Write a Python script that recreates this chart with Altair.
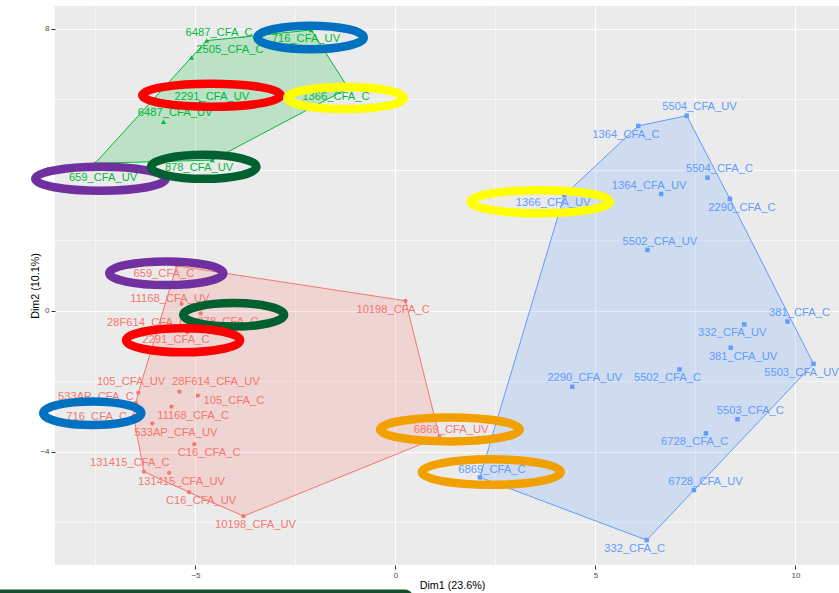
import altair as alt
import pandas as pd

# ---- PCA individuals (Dim1, Dim2) and their label positions ----
red_names = ["659_CFA_C", "10198_CFA_C", "11168_CFA_UV", "878_CFA_C", "28F614_CFA_C",
             "2291_CFA_C", "105_CFA_UV", "28F614_CFA_UV", "105_CFA_C", "533AP_CFA_C",
             "11168_CFA_C", "716_CFA_C", "533AP_CFA_UV", "C16_CFA_C", "131415_CFA_C",
             "131415_CFA_UV", "C16_CFA_UV", "10198_CFA_UV", "6869_CFA_UV"]
red_x = [-5.47, 0.25, -5.35, -4.87, -5.20, -4.89, -6.43, -5.40, -4.94, -6.49,
         -5.60, -6.55, -6.08, -5.03, -6.29, -5.66, -5.16, -3.80, 1.10]
red_y = [1.28, 0.29, 0.20, -0.07, -0.60, -1.16, -2.32, -2.29, -2.40, -2.61,
         -2.71, -2.98, -3.19, -3.78, -4.56, -4.59, -5.14, -5.82, -3.57]
red_lx = [-5.79, -0.06, -5.64, -4.19, -6.21, -5.49, -6.61, -4.49, -4.04, -7.49,
          -5.06, -7.47, -5.49, -4.66, -6.64, -5.35, -4.86, -3.50, 1.39]
red_ly = [1.04, 0.03, 0.34, -0.30, -0.35, -0.82, -2.01, -2.01, -2.54, -2.43,
          -2.97, -3.00, -3.45, -4.04, -4.32, -4.84, -5.39, -6.07, -3.38]

green_names = ["6487_CFA_C", "716_CFA_UV", "2505_CFA_C", "2291_CFA_UV", "1366_CFA_C",
               "6487_CFA_UV", "878_CFA_UV", "659_CFA_UV"]
green_x = [-4.72, -2.11, -5.10, -4.89, -1.18, -5.80, -4.58, -7.51]
green_y = [7.67, 7.97, 7.19, 5.93, 6.32, 5.37, 4.28, 4.19]
green_lx = [-4.41, -2.24, -4.14, -4.59, -1.49, -5.51, -4.91, -7.31]
green_ly = [7.88, 7.72, 7.40, 6.08, 6.06, 5.61, 4.05, 3.78]

blue_names = ["5504_CFA_UV", "1364_CFA_C", "5504_CFA_C", "1364_CFA_UV", "2290_CFA_C",
              "1366_CFA_UV", "5502_CFA_UV", "381_CFA_C", "332_CFA_UV", "381_CFA_UV",
              "5503_CFA_UV", "2290_CFA_UV", "5502_CFA_C", "5503_CFA_C", "6728_CFA_C",
              "6869_CFA_C", "6728_CFA_UV", "332_CFA_C"]
blue_x = [7.28, 6.07, 7.80, 6.64, 8.36, 4.22, 6.30, 9.80, 8.72, 8.38,
          10.45, 4.42, 7.10, 8.55, 7.76, 2.11, 7.46, 6.28]
blue_y = [5.54, 5.25, 3.78, 3.32, 3.18, 3.29, 1.73, -0.30, -0.38, -1.04,
          -1.50, -2.15, -1.66, -3.07, -3.47, -4.72, -5.08, -6.50]
blue_lx = [7.60, 5.76, 8.10, 6.34, 8.66, 3.94, 6.61, 10.10, 8.42, 8.69,
           10.15, 4.73, 6.80, 8.87, 7.48, 2.41, 7.75, 5.98]
blue_ly = [5.78, 4.99, 4.02, 3.55, 2.93, 3.06, 1.95, -0.07, -0.63, -1.30,
           -1.75, -1.89, -1.89, -2.84, -3.72, -4.51, -4.84, -6.75]

# ---- highlight rings around repeated strains ----
ring_names = ["716_CFA_UV", "2291_CFA_UV", "1366_CFA_C", "659_CFA_UV", "878_CFA_UV",
              "659_CFA_C", "878_CFA_C", "2291_CFA_C", "716_CFA_C", "6869_CFA_UV",
              "6869_CFA_C", "1366_CFA_UV"]
ring_x = [-2.125, -4.60, -1.25, -7.375, -4.795, -5.73, -4.045, -5.31, -7.58, 1.36, 2.395, 3.62]
ring_y = [7.76, 6.12, 6.04, 3.75, 4.09, 1.07, -0.11, -0.83, -2.90, -3.36, -4.57, 3.10]
ring_colors = ["#0070C0", "#FF0000", "#FFFF00", "#7030A0", "#00602F",
               "#7030A0", "#00602F", "#FF0000", "#0070C0", "#F2A000",
               "#F2A000", "#FFFF00"]

X_MAJOR = [-5, 0, 5, 10]
X_MINOR = [-7.5, -2.5, 2.5, 7.5]
Y_MAJOR = [-4, 0, 4, 8]
Y_MINOR = [-6, -2, 2, 6]

GROUP_COLORS = {"red": "#F8766D", "green": "#00BA38", "blue": "#619CFF"}
GROUP_SHAPES = {"red": "circle", "green": "triangle-up", "blue": "square"}
GROUP_SIZES = {"red": 18, "green": 26, "blue": 20}

groups = {
    "red": (red_names, red_x, red_y, red_lx, red_ly),
    "green": (green_names, green_x, green_y, green_lx, green_ly),
    "blue": (blue_names, blue_x, blue_y, blue_lx, blue_ly),
}

W, H = 784, 559
xs = alt.Scale(domain=[-8.5125, 11.0875], nice=False, zero=False)
ys = alt.Scale(domain=[-7.206, 8.652], nice=False, zero=False)
FONT = "Liberation Sans"


def convex_hull(points):
    pts = sorted(set(points))
    if len(pts) < 3:
        return pts

    def cross(o, a, b):
        return (a[0] - o[0]) * (b[1] - o[1]) - (a[1] - o[1]) * (b[0] - o[0])

    lower, upper = [], []
    for p in pts:
        while len(lower) >= 2 and cross(lower[-2], lower[-1], p) <= 0:
            lower.pop()
        lower.append(p)
    for p in reversed(pts):
        while len(upper) >= 2 and cross(upper[-2], upper[-1], p) <= 0:
            upper.pop()
        upper.append(p)
    return lower[:-1] + upper[:-1]


x_enc = alt.X("x:Q", scale=xs, axis=alt.Axis(
    values=X_MAJOR, grid=True, gridColor="white", gridWidth=1.1, domain=False,
    ticks=True, tickColor="#333333", tickSize=4, tickWidth=1,
    labelFontSize=8, labelColor="#4D4D4D", labelPadding=2, labelFont=FONT,
    title="Dim1 (23.6%)", titleFont=FONT, titleFontSize=10.75, titleColor="black",
    titleFontWeight="normal", titleX=397, titleY=20, titleBaseline="middle",
    titleAlign="center"))
y_enc = alt.Y("y:Q", scale=ys, axis=alt.Axis(
    values=Y_MAJOR, grid=True, gridColor="white", gridWidth=1.1, domain=False,
    ticks=True, tickColor="#333333", tickSize=4, tickWidth=1,
    labelFontSize=8, labelColor="#4D4D4D", labelPadding=2, labelFont=FONT,
    title="Dim2 (10.1%)", titleFont=FONT, titleFontSize=10.75, titleColor="black",
    titleFontWeight="normal", titleX=-20, titleY=H / 2, titleAngle=270,
    titleBaseline="middle", titleAlign="center"))

layers = []

# minor grid lines
minor_x = alt.Chart(pd.DataFrame({"x": X_MINOR})).mark_rule(color="white", strokeWidth=0.55).encode(
    x=x_enc)
minor_y = alt.Chart(pd.DataFrame({"y": Y_MINOR})).mark_rule(color="white", strokeWidth=0.55).encode(
    y=y_enc)
layers += [minor_x, minor_y]

# group hulls
for g, (names, gx, gy, lx, ly) in groups.items():
    hull = convex_hull(list(zip(gx, gy)))
    hull = hull + [hull[0]]
    hdf = pd.DataFrame({"x": [p[0] for p in hull], "y": [p[1] for p in hull],
                        "o": list(range(len(hull)))})
    layers.append(
        alt.Chart(hdf).mark_line(stroke=GROUP_COLORS[g], strokeWidth=1,
                                 fill=GROUP_COLORS[g], fillOpacity=0.2)
        .encode(x=x_enc, y=y_enc, order="o:Q")
    )

# points
for g, (names, gx, gy, lx, ly) in groups.items():
    pdf = pd.DataFrame({"x": gx, "y": gy, "name": names})
    layers.append(
        alt.Chart(pdf).mark_point(shape=GROUP_SHAPES[g], filled=True, opacity=1,
                                  color=GROUP_COLORS[g], size=GROUP_SIZES[g])
        .encode(x=x_enc, y=y_enc)
    )

# labels
for g, (names, gx, gy, lx, ly) in groups.items():
    tdf = pd.DataFrame({"x": lx, "y": ly, "name": names})
    layers.append(
        alt.Chart(tdf).mark_text(font=FONT, fontSize=11.2, color=GROUP_COLORS[g],
                                 align="center", baseline="middle")
        .encode(x=x_enc, y=y_enc, text="name:N")
    )

# highlight rings (outer half-width / half-height in pixels)
ring_rx = [57.5, 73.5, 62.5, 69.5, 57.0, 61.3, 54.7, 61.3, 53.3, 74.0, 73.7, 73.7]
ring_ry = [16.0, 15.8, 15.3, 16.2, 16.3, 16.0, 16.0, 16.3, 16.0, 16.2, 17.0, 15.8]
RING_W = 8.5
k = 0.5523


def ellipse_path(r):
    f = lambda v: f"{v:.4f}"
    return (f"M -1 0 C -1 {f(-k*r)} {f(-k)} {f(-r)} 0 {f(-r)} "
            f"C {f(k)} {f(-r)} 1 {f(-k*r)} 1 0 "
            f"C 1 {f(k*r)} {f(k)} {f(r)} 0 {f(r)} "
            f"C {f(-k)} {f(r)} -1 {f(k*r)} -1 0 Z")


ring_ids = [f"{n}#{i}" for i, n in enumerate(ring_names)]
ring_paths, ring_sizes = [], []
for a, b in zip(ring_rx, ring_ry):
    a_c, b_c = a - RING_W / 2, b - RING_W / 2
    ring_paths.append(ellipse_path(b_c / a_c))
    ring_sizes.append((2 * a_c) ** 2)

rdf = pd.DataFrame({"x": ring_x, "y": ring_y, "id": ring_ids,
                    "col": ring_colors, "sz": ring_sizes})
layers.append(
    alt.Chart(rdf).mark_point(filled=False, strokeWidth=RING_W, opacity=1)
    .encode(x=x_enc, y=y_enc,
            shape=alt.Shape("id:N", scale=alt.Scale(domain=ring_ids, range=ring_paths), legend=None),
            size=alt.Size("sz:Q", scale=None),
            stroke=alt.Stroke("col:N", scale=None))
)

# footer band
layers.append(
    alt.Chart(pd.DataFrame({"k": [0]})).mark_rect(color="#114F2A", cornerRadiusTopRight=8)
    .encode(x=alt.value(-55), x2=alt.value(358), y=alt.value(583.5), y2=alt.value(600))
)

chart = alt.layer(*layers).properties(
    width=W, height=H,
    autosize=alt.AutoSizeParams(type="none"),
    padding={"left": 55, "top": 6, "right": 0, "bottom": 28},
    background="white",
).configure_view(fill="#EBEBEB", stroke=None)

chart.save("out.html", embed_options={"renderer": "svg", "actions": False})
